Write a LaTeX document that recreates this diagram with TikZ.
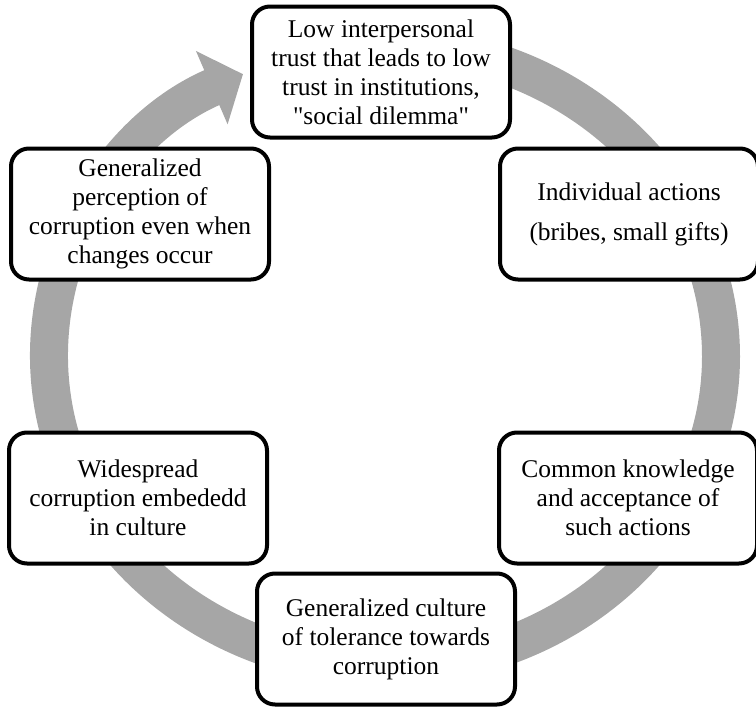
\documentclass[tikz,border=0pt]{standalone}
\usepackage{fontspec}
\setmainfont{Liberation Serif}
\usepackage{xcolor}
\usepackage{tikz}
\usetikzlibrary{arrows.meta}

\definecolor{ringgray}{HTML}{A6A6A6}

\begin{document}
\begin{tikzpicture}[
  x=1pt, y=-1pt,
  font=\fontsize{25.5}{29}\selectfont,
  ring/.style={draw=ringgray, line width=38pt, -{Triangle[length=34pt, width=78pt]}},
  stage/.style={draw, line width=4pt, rounded corners=18pt, fill=white, align=center,
                minimum width=258pt, minimum height=131pt, inner sep=4pt}]
\useasboundingbox (0,0) rectangle (756,707);
% cycle ring, clockwise, ending in the head at the top left
\draw[ring] (355.7,46.2) arc[start angle=95, end angle=-245, x radius=336pt, y radius=311pt];
\node[stage] (trust) at (381,72)  {Low interpersonal\\trust that leads to low\\trust in institutions,\\\textquotedbl social dilemma\textquotedbl};
\node[stage] (indiv) at (629,214) {Individual actions\\[11pt](bribes, small gifts)};
\node[stage] (known) at (628,498) {Common knowledge\\and acceptance of\\such actions};
\node[stage] (toler) at (386,639) {Generalized culture\\of tolerance towards\\corruption};
\node[stage] (wide)  at (138,498) {Widespread\\corruption embededd\\in culture};
\node[stage] (perc)  at (140,214) {Generalized\\perception of\\corruption even when\\changes occur};
\end{tikzpicture}
\end{document}
